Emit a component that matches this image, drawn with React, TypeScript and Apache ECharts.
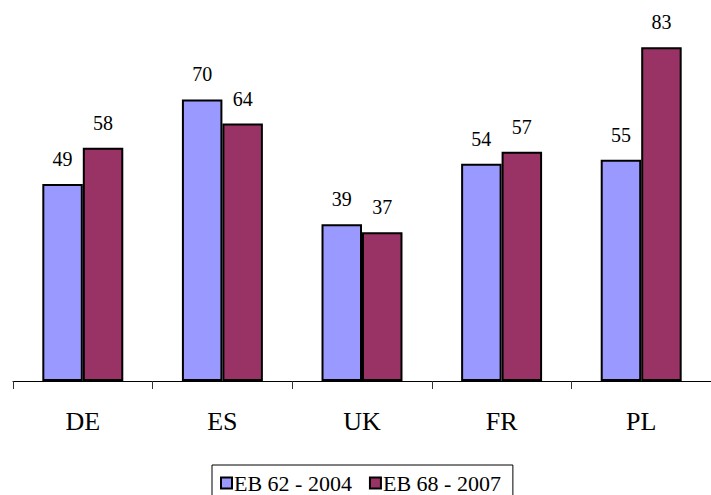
import React, { useEffect, useRef } from "react";
import * as echarts from "echarts";

const categories = ["DE", "ES", "UK", "FR", "PL"];
const seriesNames = ["EB 62 - 2004", "EB 68 - 2007"];
const eb62 = [49, 70, 39, 54, 55];
const eb68 = [58, 64, 37, 57, 83];
const colors = ["#9999FF", "#993366"];

export default function App() {
  const ref = useRef<HTMLDivElement>(null);
  useEffect(() => {
    if (!ref.current) return;
    const chart = echarts.init(ref.current, undefined, { renderer: "svg" });
    const font = "'Liberation Serif', 'Times New Roman', serif";
    const mk = (name: string, data: number[], color: string) => ({
      name,
      type: "bar",
      data,
      barGap: "0%",
      barCategoryGap: "42%",
      itemStyle: { color, borderColor: "#000", borderWidth: 2 },
      label: {
        show: true,
        position: "top",
        distance: 15,
        color: "#000",
        fontFamily: font,
        fontSize: 20,
      },
    });
    chart.setOption({
      animation: false,
      textStyle: { fontFamily: font },
      grid: { left: 13, width: 703, top: 19, height: 362 },
      xAxis: {
        type: "category",
        data: categories,
        axisLine: { lineStyle: { color: "#000", width: 1 } },
        axisTick: { show: true, length: 8, lineStyle: { color: "#333" } },
        axisLabel: { color: "#000", fontFamily: font, fontSize: 26, margin: 27 },
      },
      yAxis: {
        type: "value",
        min: 0,
        max: 90,
        show: false,
        splitLine: { show: false },
      },
      legend: {
        data: seriesNames,
        left: 212,
        top: 465,
        icon: "rect",
        itemWidth: 11,
        itemHeight: 11,
        itemGap: 17,
        borderColor: "#000",
        borderWidth: 1,
        padding: [7, 12, 8, 8],
        textStyle: { color: "#000", fontFamily: font, fontSize: 22, padding: [0, 0, 0, -3] },
      },
      series: [mk(seriesNames[0], eb62, colors[0]), mk(seriesNames[1], eb68, colors[1])],
    });
    return () => chart.dispose();
  }, []);
  return <div ref={ref} style={{ width: 711, height: 495, position: "absolute", left: 0, top: 0 }} />;
}
